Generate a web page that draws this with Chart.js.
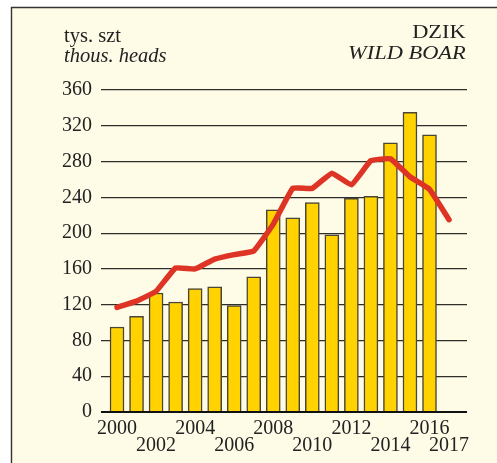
<!DOCTYPE html>
<html>
<head>
<meta charset="utf-8">
<script src="https://cdn.jsdelivr.net/npm/chart.js@4"></script>
<style>
  body { margin: 0; background: #fff; }
  #wrap { position: relative; width: 497px; height: 463px; }
  .cap { position: absolute; font-family: "Liberation Serif", serif; color: #222; white-space: nowrap; }
  #capLeft { left: 64px; top: 25px; font-size: 20.5px; line-height: 20px; }
  #capRight { right: 31px; top: 21px; text-align: right; font-size: 19px; line-height: 21px;
              transform: scaleX(1.18); transform-origin: right top; }
  .it { font-style: italic; }
</style>
</head>
<body>
<div id="wrap">
  <canvas id="chart" width="497" height="463"></canvas>
  <div class="cap" id="capLeft">tys. szt<br><span class="it">thous. heads</span></div>
  <div class="cap" id="capRight">DZIK<br><span class="it">WILD BOAR</span></div>
</div>
<script>
// lata (oś X)
const years = [2000, 2001, 2002, 2003, 2004, 2005, 2006, 2007, 2008, 2009,
               2010, 2011, 2012, 2013, 2014, 2015, 2016, 2017];
// słupki - odstrzał, tys. szt (2000-2016)
const barValues = [95, 107, 133, 123, 138, 140, 119, 151, 226, 217,
                   234, 198, 239, 241, 301, 335, 310];
// linia - stan populacji, tys. szt (2000-2017)
const lineValues = [117, 124, 135, 161, 160, 171, 176, 180, 210, 250,
                    250, 267, 254, 281, 283, 263, 249, 215];
// podpisy osi X w dwóch rzędach
const topRowYears = [2000, 2004, 2008, 2012, 2016];
const bottomRowYears = [2002, 2006, 2010, 2014, 2017];
const yTicks = [0, 40, 80, 120, 160, 200, 240, 280, 320, 360];

const serif = '"Liberation Serif", "Times New Roman", serif';

// tło i ramka
const framePlugin = {
    id: 'frame',
    beforeDraw(chart) {
        const ctx = chart.ctx;
        ctx.save();
        ctx.fillStyle = '#ffffff';
        ctx.fillRect(0, 0, chart.width, chart.height);
        ctx.fillStyle = '#fefbe7';
        ctx.fillRect(11.5, 7.5, chart.width, chart.height);
        ctx.strokeStyle = '#333';
        ctx.lineWidth = 1.4;
        ctx.beginPath();
        ctx.moveTo(11.5, chart.height);
        ctx.lineTo(11.5, 7.5);
        ctx.lineTo(chart.width, 7.5);
        ctx.stroke();
        ctx.restore();
    }
};

new Chart(document.getElementById('chart'), {
    type: 'bar',
    data: {
        labels: years,
        datasets: [{
            type: 'line',
            data: lineValues,
            borderColor: '#de3426',
            borderWidth: 5.5,
            pointRadius: 0,
            tension: 0.1,
            borderCapStyle: 'round',
            borderJoinStyle: 'round',
            order: 0
        }, {
            data: barValues,
            backgroundColor: '#ffd200',
            borderColor: '#4a4535',
            borderWidth: 1.5,
            barThickness: 14,
            order: 1
        }]
    },
    options: {
        responsive: false,
        animation: false,
        events: [],
        layout: { padding: { top: 90, right: 30, left: 0, bottom: 0 } },
        plugins: { legend: { display: false }, tooltip: { enabled: false } },
        scales: {
            x: {
                type: 'linear',
                min: 1999.18,
                max: 2017.92,
                offset: false,
                grid: { display: false },
                border: { display: false },
                afterBuildTicks(scale) {
                    scale.ticks = topRowYears.concat(bottomRowYears)
                        .sort((a, b) => a - b)
                        .map(v => ({ value: v }));
                },
                afterFit(scale) { scale.height = 51; },
                ticks: {
                    autoSkip: false,
                    maxRotation: 0,
                    padding: 0,
                    color: '#222',
                    font: { family: serif, size: 20, lineHeight: '17px' },
                    callback(value) {
                        if (topRowYears.includes(value)) return [String(value), ''];
                        return ['', String(value)];
                    }
                }
            },
            y: {
                min: 0,
                max: 360,
                afterBuildTicks(scale) {
                    scale.ticks = yTicks.map(v => ({ value: v }));
                },
                afterFit(scale) { scale.width = 101; },
                border: { display: false },
                grid: {
                    drawTicks: false,
                    color: ctx => ctx.tick.value === 0 ? '#111' : '#2e2e2a',
                    lineWidth: ctx => ctx.tick.value === 0 ? 2 : 1.2
                },
                ticks: {
                    padding: 9,
                    color: '#222',
                    font: { family: serif, size: 20 }
                }
            }
        }
    },
    plugins: [framePlugin]
});
</script>
</body>
</html>
